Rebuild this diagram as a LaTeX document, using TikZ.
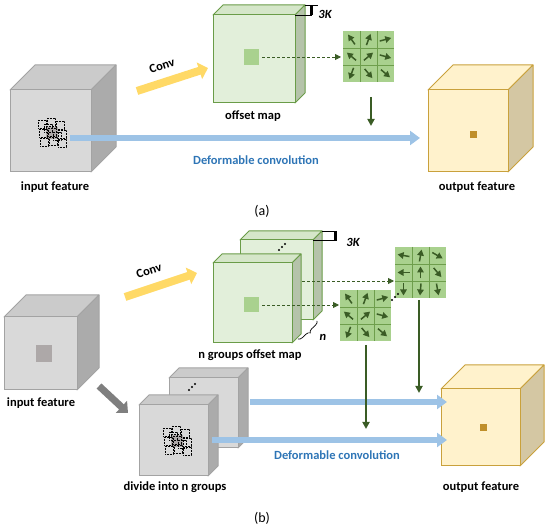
\documentclass[tikz,border=0pt]{standalone}
\usepackage{fontspec}
\setmainfont{Carlito}
\usepackage{tikz}
\usetikzlibrary{arrows.meta,decorations.pathreplacing}

\definecolor{greyfront}{HTML}{D9D9D9}
\definecolor{greytop}{HTML}{CBCBCB}
\definecolor{greyside}{HTML}{ABABAB}
\definecolor{greyedge}{HTML}{A3A3A3}
\definecolor{greenfront}{HTML}{E2EFDA}
\definecolor{greentop}{HTML}{D5E6C9}
\definecolor{greenside}{HTML}{B5C3AA}
\definecolor{greenedge}{HTML}{6A9C48}
\definecolor{yellowfront}{HTML}{FFF2CC}
\definecolor{yellowtop}{HTML}{FFF2CC}
\definecolor{yellowside}{HTML}{D4C7A3}
\definecolor{yellowedge}{HTML}{C9A13C}
\definecolor{cellgreen}{HTML}{A9D18E}
\definecolor{cellline}{HTML}{6E9E4C}
\definecolor{darkgreen}{HTML}{3A5C25}
\definecolor{flowblue}{HTML}{9DC3E6}
\definecolor{textblue}{HTML}{2E75B6}
\definecolor{convyellow}{HTML}{FFD966}
\definecolor{splitgrey}{HTML}{7F7F7F}
\definecolor{samplegrey}{HTML}{ADA8A8}
\definecolor{pointbrown}{HTML}{BF8F2A}

% cube: x, y (front top left), width, height, depth, front, top, side, edge
\newcommand{\drawcube}[9]{%
  \filldraw[draw=#9,fill=#7,line width=1pt,line join=round] (#1,#2) -- ++(#5,-#5) -- ++(#3,0) -- ++(-#5,#5) -- cycle;
  \filldraw[draw=#9,fill=#8,line width=1pt,line join=round] ({#1+#3},#2) -- ++(#5,-#5) -- ++(0,#4) -- ++(-#5,#5) -- cycle;
  \filldraw[draw=#9,fill=#6,line width=1pt] (#1,#2) rectangle ++(#3,#4);
}

% 3x3 offset grid: x, y (top left), angles of the nine arrows
\newcommand{\offsetgrid}[3]{%
  \fill[cellgreen] (#1,#2) rectangle ++(51,51);
  \draw[cellline,line width=0.8pt] ({#1+17},#2) -- ++(0,51) ({#1+34},#2) -- ++(0,51)
    (#1,{#2+17}) -- ++(51,0) (#1,{#2+34}) -- ++(51,0);
  \foreach \ang [count=\k from 0] in {#3} {
    \pgfmathtruncatemacro{\col}{mod(\k,3)}
    \pgfmathtruncatemacro{\row}{div(\k,3)}
    \draw[cellarrow] ({#1+\col*17+8.5},{#2+\row*17+8.5}) ++(\ang+180:6pt) -- ++(\ang:12pt);
  }
}

% dotted sampling squares round a grey centre: cx, cy
\newcommand{\samplepoints}[2]{%
  \fill[samplegrey] ({#1-6},{#2-6}) rectangle ++(12,12);
  \foreach \dx/\dy in {-14/-13,-5/-15,4/-12,-13/-4,-4/-5,6/-3,-12/5,-3/4,6/6,-8/-9,1/-1}
    \draw[black,line width=0.6pt,densely dotted] ({#1+\dx},{#2+\dy}) rectangle ++(8,8);
}

\begin{document}
\begin{tikzpicture}[x=1pt,y=-1pt,
    captext/.style={font=\bfseries\fontsize{12.5}{14}\selectfont},
    bluetext/.style={captext,text=textblue},
    dimtext/.style={font=\bfseries\itshape\fontsize{12.5}{14}\selectfont},
    parttext/.style={font=\fontsize{14}{16}\selectfont},
    flowarrow/.style={draw=flowblue,line width=6pt,-{Triangle[length=10pt,width=14pt]}},
    convarrow/.style={draw=convyellow,line width=8pt,-{Triangle[length=9pt,width=17pt]}},
    splitarrow/.style={draw=splitgrey,line width=7pt,-{Triangle[length=9pt,width=16pt]}},
    offsetarrow/.style={draw=darkgreen,line width=2pt,-{Triangle[length=7pt,width=7pt]}},
    offsetdash/.style={draw=darkgreen,line width=0.8pt,dash pattern=on 3pt off 2pt,-{Triangle[length=6pt,width=6pt]}},
    cellarrow/.style={draw=darkgreen,line width=1.5pt,-{Triangle[length=6pt,width=6.5pt]}}]

  \useasboundingbox (0,0) rectangle (550,529);

  % ---------- (a) ----------
  \drawcube{10}{90}{81}{82}{25}{greyfront}{greytop}{greyside}{greyedge}
  \samplepoints{52}{133}

  \drawcube{213}{15}{82}{88}{10}{greenfront}{greentop}{greenside}{greenedge}
  \fill[cellgreen] (244,49) rectangle ++(15,16);
  \draw[black,line width=0.7pt] (305,5) -- (318,5) (295,15) -- (312,15);
  \draw[black,line width=3pt] (311,6) -- (311,15);

  \offsetgrid{343}{31}{125,70,15,140,40,-15,-110,-50,-40}

  \drawcube{428}{90}{80}{82}{25}{yellowfront}{yellowtop}{yellowside}{yellowedge}
  \fill[pointbrown] (470,131) rectangle ++(7,7);

  \coordinate (convAs) at (137,91);
  \coordinate (convAe) at (208,68);
  \coordinate (flowAs) at (70,138);
  \coordinate (flowAe) at (420,138);
  \coordinate (dashAs) at (262,57);
  \coordinate (dashAe) at (341,57);
  \coordinate (downAs) at (371,97);
  \coordinate (downAe) at (371,126);

  \draw[convarrow] (convAs) -- (convAe);
  \draw[flowarrow] (flowAs) -- (flowAe);
  \draw[offsetdash] (dashAs) -- (dashAe);
  \draw[offsetarrow] (downAs) -- (downAe);

  \node[captext,rotate=18] (convA) at (162,66) {Conv};
  \node[dimtext] (kA) at (325,14) {3K};
  \node[captext] (offA) at (253,116) {offset map};
  \node[captext] (inA) at (55,187) {input feature};
  \node[bluetext] (defA) at (256,160) {Deformable convolution};
  \node[captext] (outA) at (477,187) {output feature};
  \node[parttext] (partA) at (262,211) {(a)};

  % ---------- (b) ----------
  \drawcube{4}{317}{73}{73}{22}{greyfront}{greytop}{greyside}{greyedge}
  \fill[samplegrey] (36,345) rectangle ++(16,17);

  \drawcube{240}{240}{73}{80}{9}{greenfront}{greentop}{greenside}{greenedge}
  \foreach \t in {0,1,2}
    \fill[black] ({279+3*\t},{250-3*\t}) circle (1.1);
  \drawcube{213}{263}{79}{80}{9}{greenfront}{greentop}{greenside}{greenedge}
  \fill[cellgreen] (244,297) rectangle ++(15,15);
  \draw[black,line width=0.7pt] (322,231) -- (337,231) (313,240) -- (337,240);
  \draw[black,line width=3pt] (335,231) -- (335,240);
  \draw[black,line width=0.7pt,decorate,decoration={brace,amplitude=4pt,mirror}] (298,339) -- (317,321);

  \offsetgrid{340}{290}{125,70,15,140,40,-15,-110,-50,-40}
  \offsetgrid{395}{247}{170,80,-30,180,90,-50,-90,-95,-80}
  \foreach \t in {0,1,2}
    \fill[black] ({392+3*\t},{300-3*\t}) circle (1.1);

  \drawcube{169}{378}{69}{70}{10}{greyfront}{greytop}{greyside}{greyedge}
  \foreach \t in {0,1,2}
    \fill[black] ({189+3*\t},{390-3*\t}) circle (1.1);
  \drawcube{139}{405}{69}{71}{10}{greyfront}{greytop}{greyside}{greyedge}
  \samplepoints{177}{441}

  \drawcube{441}{389}{79}{77}{24}{yellowfront}{yellowtop}{yellowside}{yellowedge}
  \fill[pointbrown] (480,424) rectangle ++(7,7);

  \coordinate (convBs) at (125,297);
  \coordinate (convBe) at (197,273);
  \coordinate (splitBs) at (99,386);
  \coordinate (splitBe) at (128,413);
  \coordinate (flowBs) at (250,402);
  \coordinate (flowBe) at (447,402);
  \coordinate (flowCs) at (212,440);
  \coordinate (flowCe) at (447,440);
  \coordinate (dashBs) at (262,305);
  \coordinate (dashBe) at (339,305);
  \coordinate (dashCs) at (302,281);
  \coordinate (dashCe) at (394,281);
  \coordinate (downBs) at (366,345);
  \coordinate (downBe) at (366,429);
  \coordinate (downCs) at (419,300);
  \coordinate (downCe) at (419,393);

  \draw[convarrow] (convBs) -- (convBe);
  \draw[splitarrow] (splitBs) -- (splitBe);
  \draw[flowarrow] (flowBs) -- (flowBe);
  \draw[flowarrow] (flowCs) -- (flowCe);
  \draw[offsetdash] (dashBs) -- (dashBe);
  \draw[offsetdash] (dashCs) -- (dashCe);
  \draw[offsetarrow] (downBs) -- (downBe);
  \draw[offsetarrow] (downCs) -- (downCe);

  \node[captext,rotate=18] (convB) at (149,271) {Conv};
  \node[dimtext] (kB) at (353,242) {3K};
  \node[dimtext] (nB) at (323,337) {n};
  \node[captext] (offB) at (250,355) {n groups offset map};
  \node[captext] (inB) at (41,403) {input feature};
  \node[captext] (divB) at (175,487) {divide into n groups};
  \node[bluetext] (defB) at (337,455) {Deformable convolution};
  \node[captext] (outB) at (481,487) {output feature};
  \node[parttext] (partB) at (262,518) {(b)};

\end{tikzpicture}
\end{document}
